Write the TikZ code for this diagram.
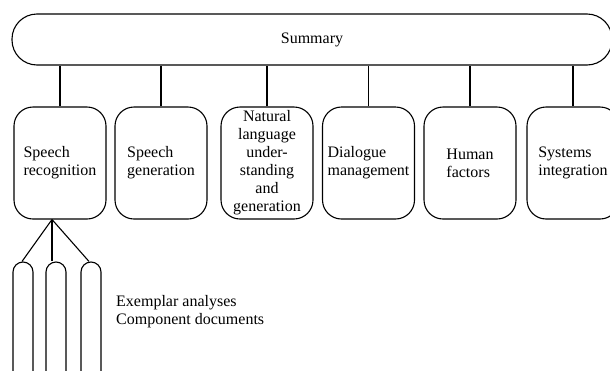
\documentclass[tikz,border=0pt]{standalone}
\usepackage{fontspec}
\setmainfont{Liberation Serif}
\usetikzlibrary{calc}
\begin{document}
\begin{tikzpicture}[x=1pt,y=-1pt,
  every node/.style={font=\fontsize{16}{18}\selectfont, inner sep=0pt},
  ln/.style={line width=1.1pt},
  topic/.style={draw, line width=1.1pt, rounded corners=19pt, minimum width=92pt, minimum height=112pt, align=left},
  topicc/.style={topic, align=center},
  leaf/.style={draw, line width=1.1pt, rounded corners=10pt, minimum width=20pt, minimum height=130pt},
  sumbox/.style={draw, line width=1.1pt, rounded corners=25pt, minimum width=600pt, minimum height=51pt}]
\useasboundingbox (0,0) rectangle (610,370);
\clip (0,0) rectangle (610,370);
\node[sumbox] (sum) at (312,39.5) {Summary};
\node[topic] (c1) at (60,163) {Speech\\recognition};
\node[topic] (c2) at (161,163) {Speech\\generation};
\node[topicc] (c3) at (267,163) {Natural\\language\\under-\\standing\\and\\generation};
\node[topic] (c4) at (368.5,163) {Dialogue\\management};
\node[topic] (c5) at (470,163) {Human\\factors};
\node[topic] (c6) at (573,163) {Systems\\integration};
\foreach \i in {1,...,6} {
  \draw[ln] (c\i.north) -- (c\i.north |- sum.south);
}
\node[leaf] (o1) at (23,327) {};
\node[leaf] (o2) at (56,327) {};
\node[leaf] (o3) at (91,327) {};
\coordinate (apex) at (52,219.5);
\draw[ln] (apex) -- ($(o1.north)+(-1,0)$);
\draw[ln] (apex) -- (apex |- o2.north);
\draw[ln] (apex) -- ($(o3.north)+(-2,0)$);
\node[align=left, anchor=west] (txt) at (116,312) {Exemplar analyses\\Component documents};
\end{tikzpicture}
\end{document}
